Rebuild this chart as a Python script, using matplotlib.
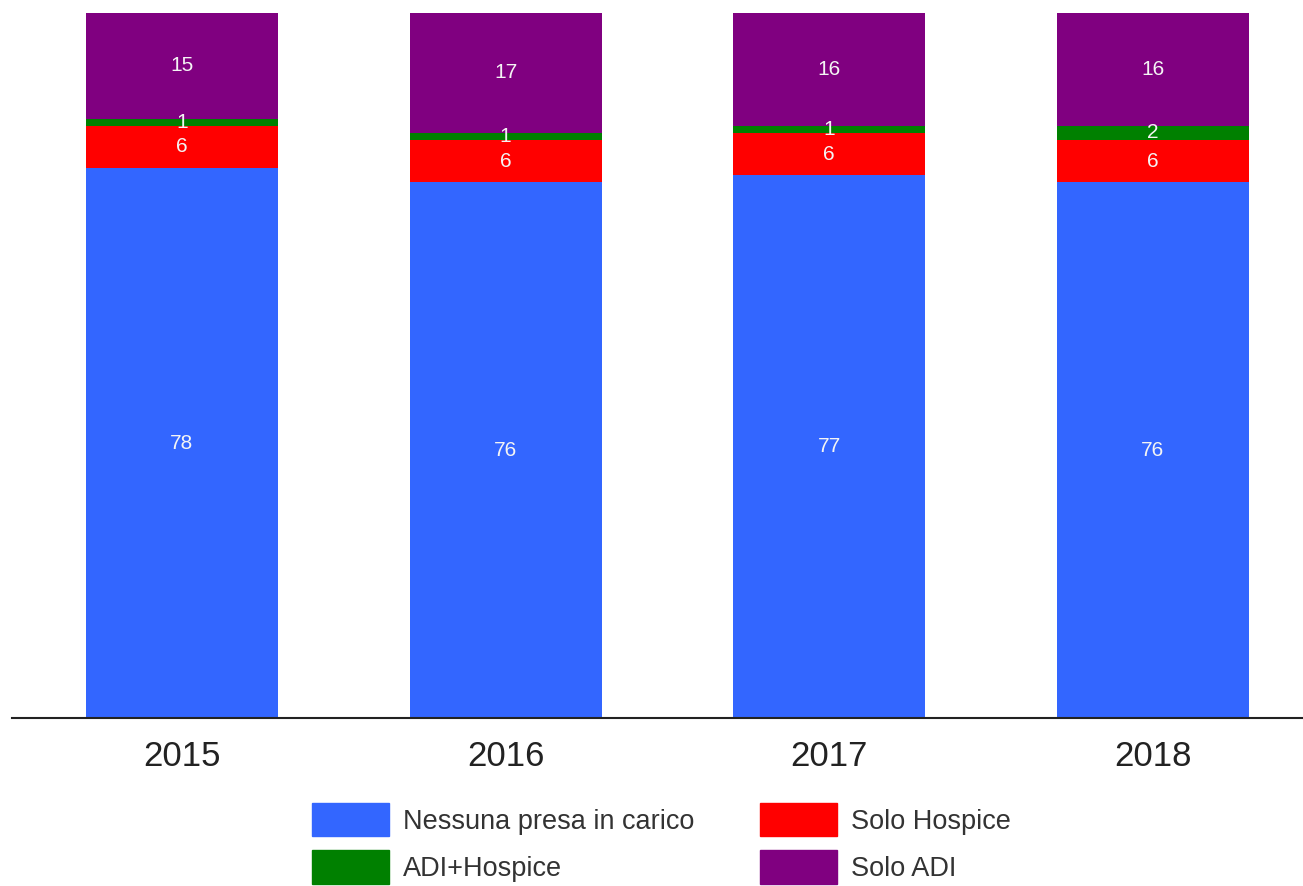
import matplotlib.pyplot as plt
from matplotlib.patches import Patch

plt.rcParams['font.family'] = ['Liberation Sans', 'DejaVu Sans']

years = ["2015", "2016", "2017", "2018"]
nessuna = [78, 76, 77, 76]
solo_hospice = [6, 6, 6, 6]
adi_hospice = [1, 1, 1, 2]
solo_adi = [15, 17, 16, 16]

series = [
    ("Nessuna presa in carico", nessuna, "#3366FF"),
    ("Solo Hospice", solo_hospice, "#FF0000"),
    ("ADI+Hospice", adi_hospice, "#008000"),
    ("Solo ADI", solo_adi, "#800080"),
]

fig = plt.figure(figsize=(13.03, 8.86), dpi=100)
ax = fig.add_axes([12 / 1303, 1 - 718 / 886, 1 - 12 / 1303, (718 - 13) / 886])

x = list(range(len(years)))
bottom = [0] * len(years)
for name, vals, col in series:
    bars = ax.bar(x, vals, width=0.593, bottom=bottom, color=col, label=name)
    for xi, b, v in zip(x, bottom, vals):
        ax.text(xi, b + v / 2, str(v), ha="center", va="center",
                color="#f4f4f4", fontsize=15)
    bottom = [b + v for b, v in zip(bottom, vals)]

ax.set_xlim(-0.525, 3.464)
ax.set_ylim(0, 100)
ax.set_xticks(x)
ax.set_xticklabels(years, fontsize=25, color="#222222")
ax.tick_params(axis="x", length=0, pad=16)
ax.set_yticks([])
for s in ["top", "right", "left"]:
    ax.spines[s].set_visible(False)
ax.spines["bottom"].set_linewidth(1.5)
ax.spines["bottom"].set_color("#222222")

# legend: row-major order like the original
handles = [Patch(color=series[i][2], label=series[i][0]) for i in [0, 2, 1, 3]]
fig.legend(handles=handles, ncol=2, loc="upper left",
           bbox_to_anchor=(312 / 1303, 1 - 803 / 886), frameon=False,
           fontsize=19.5, handlelength=2.85, handleheight=1.52,
           handletextpad=0.52, columnspacing=2.4, labelspacing=0.52,
           borderpad=0, borderaxespad=0, labelcolor="#333333")

fig.savefig("out.png", dpi=100)
